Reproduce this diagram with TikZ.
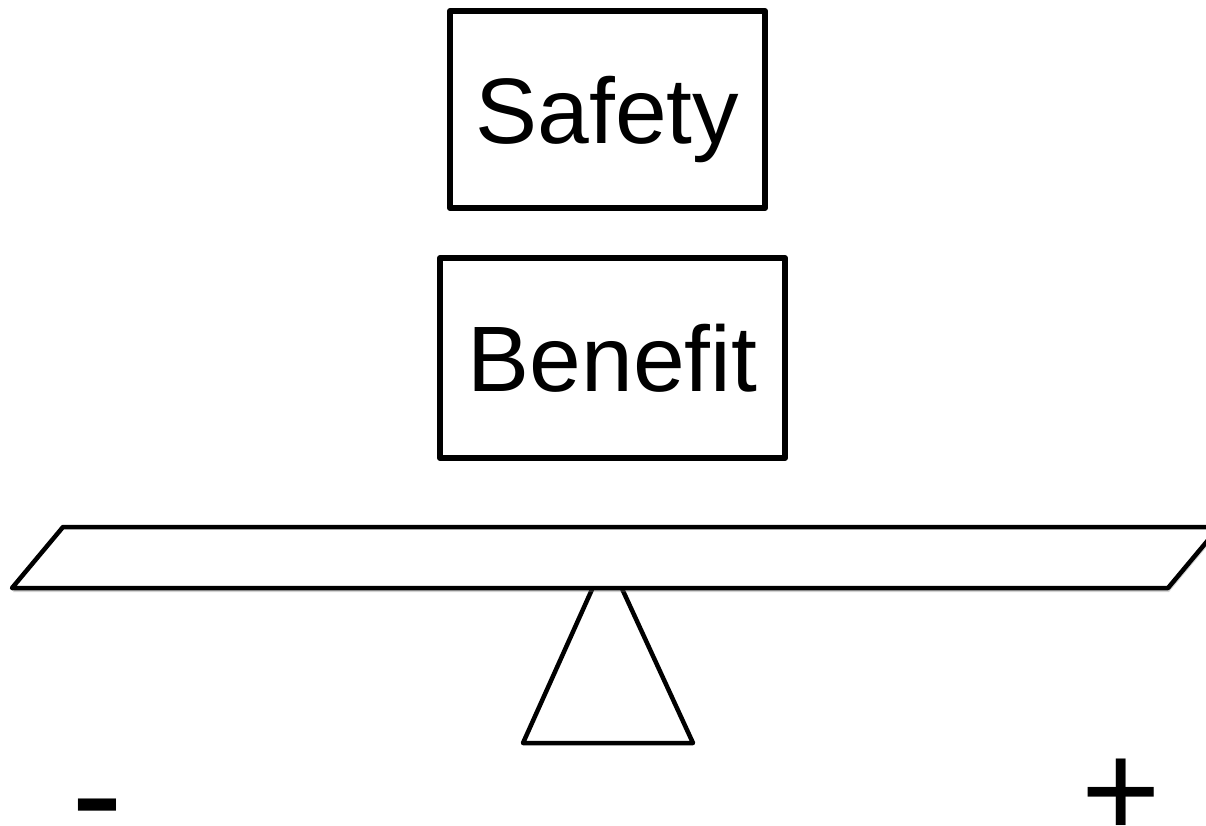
\documentclass[tikz,border=0pt]{standalone}
\usepackage{fontspec}
\setmainfont{Liberation Sans}
\usetikzlibrary{shadows}
\tikzset{
  weight/.style={draw, line width=6pt, line join=round, inner sep=0pt,
    font=\fontsize{93}{110}\selectfont, text height=67pt, text depth=0pt},
  part/.style={draw, line width=4.5pt, line join=round, fill=white},
  sign/.style={inner sep=0pt, anchor=base west}
}
\begin{document}
\begin{tikzpicture}[x=1pt,y=-1pt]
  \useasboundingbox (0,0) rectangle (1206,825);
  \clip (0,0) rectangle (1206,825);
  \node[weight, minimum width=315, minimum height=197] (safety) at (607.5,109.5) {Safety};
  \node[weight, minimum width=345, minimum height=200] (benefit) at (612.5,358) {Benefit};

  % fulcrum, then the beam on top of it
  \draw[part] (607,556) -- (693,743) -- (523,743) -- cycle;
  \draw[part, drop shadow={shadow xshift=1pt, shadow yshift=-4pt, opacity=.35}]
    (12,588) -- (63,527) -- (1219,527) -- (1168,588) -- cycle;

  \node[sign, font=\fontsize{156}{160}\selectfont] (minus) at (71,846) {-};
  \node[sign, font=\fontsize{136}{140}\selectfont] (plus) at (1081,837) {+};
\end{tikzpicture}
\end{document}
